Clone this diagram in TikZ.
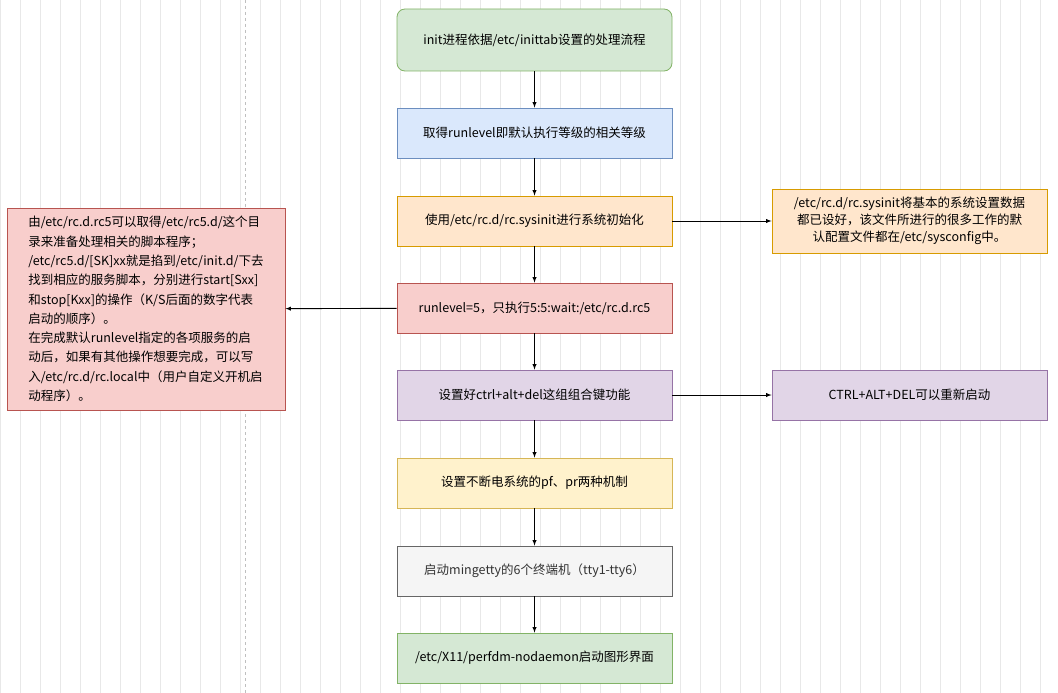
\documentclass[tikz,border=0pt]{standalone}
\usepackage{fontspec}
\setmainfont{Noto Sans CJK SC}
\begin{document}
\begin{tikzpicture}[x=1pt,y=-1pt,
  bx/.style={draw,line width=0.8pt,minimum width=275pt,minimum height=50pt,inner sep=2pt,font=\fontsize{12.5}{18}\selectfont,align=center},
  ar/.style={-latex,line width=0.9pt},
  gr/.style={fill=green!0!white,fill={rgb,255:red,213;green,232;blue,212},draw={rgb,255:red,130;green,179;blue,102}},
  bl/.style={fill={rgb,255:red,218;green,232;blue,252},draw={rgb,255:red,108;green,142;blue,191}},
  orr/.style={fill={rgb,255:red,255;green,230;blue,204},draw={rgb,255:red,215;green,155;blue,0}},
  rd/.style={fill={rgb,255:red,248;green,206;blue,204},draw={rgb,255:red,184;green,84;blue,80}},
  pu/.style={fill={rgb,255:red,225;green,213;blue,231},draw={rgb,255:red,150;green,115;blue,166}},
  ye/.style={fill={rgb,255:red,255;green,242;blue,204},draw={rgb,255:red,214;green,182;blue,86}},
  gy/.style={fill={rgb,255:red,245;green,245;blue,245},draw={rgb,255:red,102;green,102;blue,102},text={rgb,255:red,51;green,51;blue,51}}]
\useasboundingbox[fill=white] (0,0) rectangle (1058,693);
\draw[black!9,line width=0.6pt] (0,0) grid[step=20] (1058,693);
\draw[black!25,dashed,line width=0.8pt] (245,0) -- (245,693);
\node[bx,gr,rounded corners=8pt,minimum height=62pt] (a) at (534.5,40) {init进程依据/etc/inittab设置的处理流程};
\node[bx,bl] (b) at (534.5,133) {取得runlevel即默认执行等级的相关等级};
\node[bx,orr] (c) at (534.5,221) {使用/etc/rc.d/rc.sysinit进行系统初始化};
\node[bx,rd] (d) at (534.5,308) {runlevel=5，只执行5:5:wait:/etc/rc.d.rc5};
\node[bx,pu] (e) at (534.5,395) {设置好ctrl+alt+del这组组合键功能};
\node[bx,ye] (f) at (534.5,483) {设置不断电系统的pf、pr两种机制};
\node[bx,gy] (g) at (534.5,571) {启动mingetty的6个终端机（tty1-tty6）};
\node[bx,gr] (h) at (534.5,658) {/etc/X11/perfdm-nodaemon启动图形界面};
\node[bx,orr,minimum height=64pt,font=\fontsize{12.5}{17}\selectfont] (r1) at (909.5,221) {/etc/rc.d/rc.sysinit将基本的系统设置数据\\都已设好，该文件所进行的很多工作的默\\认配置文件都在/etc/sysconfig中。};
\node[bx,pu] (r2) at (909.5,395) {CTRL+ALT+DEL可以重新启动};
\node[bx,rd,minimum width=278pt,minimum height=202pt,align=left,font=\fontsize{12.5}{19.3}\selectfont] (l) at (146,309) {由/etc/rc.d.rc5可以取得/etc/rc5.d/这个目\\录来准备处理相关的脚本程序；\\/etc/rc5.d/[SK]xx就是掐到/etc/init.d/下去\\找到相应的服务脚本，分别进行start[Sxx]\\和stop[Kxx]的操作（K/S后面的数字代表\\启动的顺序）。\\在完成默认runlevel指定的各项服务的启\\动后，如果有其他操作想要完成，可以写\\入/etc/rc.d/rc.local中（用户自定义开机启\\动程序）。};
\draw[ar] (a) -- (b);
\draw[ar] (b) -- (c);
\draw[ar] (c) -- (d);
\draw[ar] (d) -- (e);
\draw[ar] (e) -- (f);
\draw[ar] (f) -- (g);
\draw[ar] (g) -- (h);
\draw[ar] (c) -- (r1);
\draw[ar] (e) -- (r2);
\draw[ar] (d) -- (l);
\end{tikzpicture}
\end{document}
